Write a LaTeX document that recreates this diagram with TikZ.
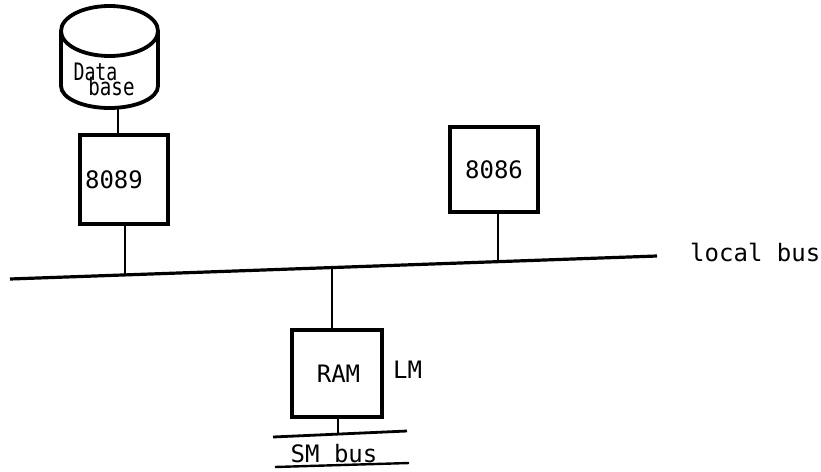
\documentclass[tikz,border=0pt]{standalone}
\usepackage{fontspec}
\newfontfamily\tw{DejaVu Sans Mono}
\usetikzlibrary{calc}
\tikzset{
  box/.style={draw, line width=3.4pt, rectangle, inner sep=0pt, font=\tw\fontsize{24}{28}\selectfont},
  conn/.style={line width=2.8pt},
  bus/.style={line width=3.2pt},
  lbl/.style={inner sep=0pt, font=\tw\fontsize{24}{28}\selectfont},
  dblbl/.style={inner sep=0pt, font=\tw\fontsize{24}{28}\selectfont}
}
\begin{document}
\begin{tikzpicture}[x=1pt, y=-1pt]
\useasboundingbox (0,0) rectangle (821,471);
% database cylinder
\node[minimum width=97pt, minimum height=102pt, inner sep=0pt] (db) at (109.5,57) {};
\draw[line width=3.8pt] (61,31) -- (61,86) arc (180:0:48.5 and 22) -- (158,31);
\draw[line width=3.8pt] (109.5,31) ellipse (48.5 and 25);
\node[dblbl, anchor=base] (data) at (95.5,80) {\scalebox{0.76}[1]{Data}};
\node[dblbl, anchor=base] (base) at (111.5,95) {\scalebox{0.8}[1]{base}};
% boxes
\node[box, minimum width=88pt, minimum height=89pt] (b8089) at (124,179.5) {\hspace*{-20pt}8089};
\node[box, minimum width=88pt, minimum height=85pt] (b8086) at (494,169.5) {8086};
\node[box, minimum width=90pt, minimum height=87pt] (ram) at (337,373.5) {\hspace*{3pt}RAM};
% local bus
\coordinate (busL) at (10,279);
\coordinate (busR) at (657,256);
\draw[bus] (busL) -- (busR);
\node[lbl, anchor=base west] (lbus) at (690,261) {local bus};
\coordinate (t1) at ($(busL)!0.1777!(busR)$);
\coordinate (t2) at ($(busL)!0.754!(busR)$);
\coordinate (t3) at ($(busL)!0.4977!(busR)$);
% connectors
\draw[conn] ([xshift=8.5pt]db.south) -- ([xshift=-6pt]b8089.north);
\draw[conn] ([xshift=1pt]b8089.south) -- ([xshift=1pt]b8089.south |- t1);
\draw[conn] ([xshift=4pt]b8086.south) -- ([xshift=4pt]b8086.south |- t2);
\draw[conn] ([xshift=-5pt]ram.north) -- ([xshift=-5pt]ram.north |- t3);
% LM
\node[lbl, anchor=base west] (lm) at (393,378) {LM};
% SM bus
\coordinate (smL) at (273,437);
\coordinate (smR) at (407,431);
\coordinate (t4) at ($(smL)!0.48!(smR)$);
\draw[conn] ([xshift=1pt]ram.south) -- ([xshift=1pt]ram.south |- t4);
\draw[bus, line width=2.8pt] (smL) -- (smR);
\node[lbl, anchor=base] (smbus) at (334,462) {SM bus};
\coordinate (ulL) at (275,467);
\coordinate (ulR) at (409,463);
\draw[conn, line width=2.4pt] (ulL) -- (ulR);
\end{tikzpicture}
\end{document}
